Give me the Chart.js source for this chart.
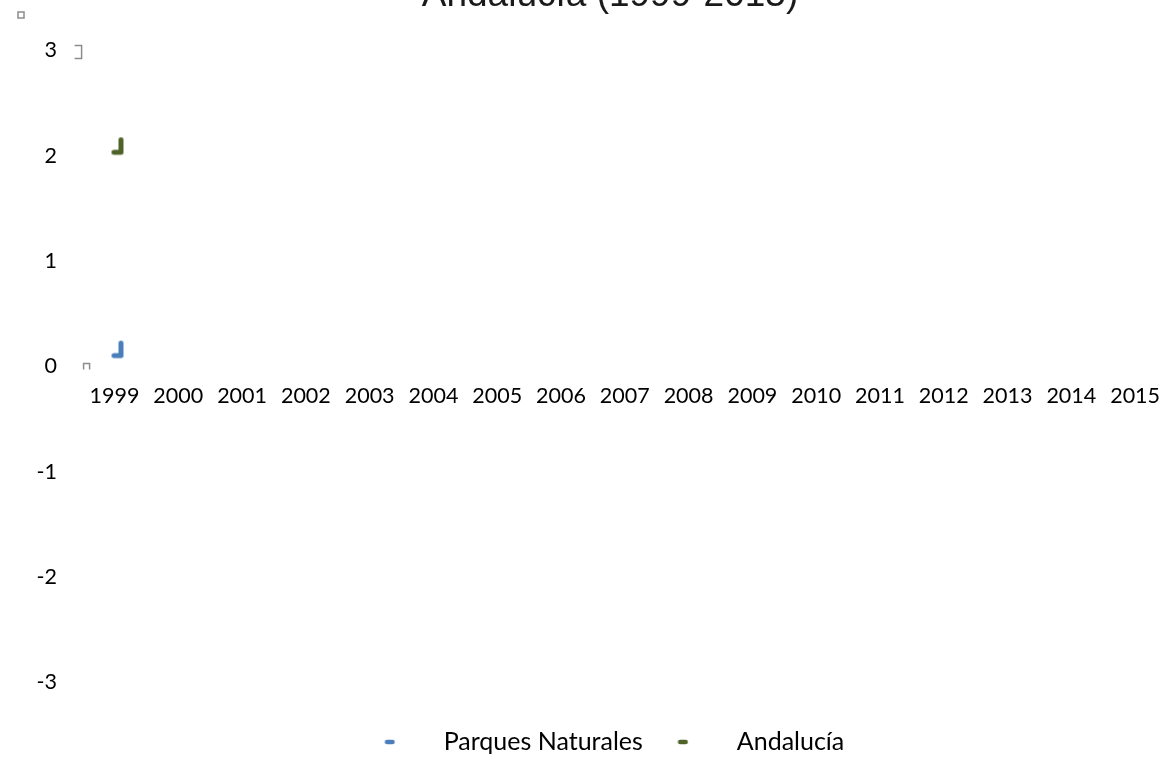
<!DOCTYPE html>
<html>
<head>
<meta charset="utf-8">
<title>Andalucía (1999-2015)</title>
<script src="https://cdn.jsdelivr.net/npm/chart.js@4.4.1/dist/chart.umd.min.js"></script>
<style>
  html, body { margin: 0; padding: 0; background: #fff; }
  #wrap { width: 1169px; height: 758px; }
</style>
</head>
<body>
<div id="wrap"><canvas id="chart"></canvas></div>
<script>
// values: only 1999 has a mark
const years = ['1999', '2000', '2001', '2002', '2003', '2004', '2005', '2006', '2007',
               '2008', '2009', '2010', '2011', '2012', '2013', '2014', '2015'];
const parquesNaturales = [0.16, null, null, null, null, null, null, null, null,
                          null, null, null, null, null, null, null, null];
const andalucia = [2.09, null, null, null, null, null, null, null, null,
                   null, null, null, null, null, null, null, null];
const yMin = -3, yMax = 3, yStep = 1;

const blue = '#4A7EBB';
const green = '#4F6228';
const font = "'Lato', 'Noto Sans', sans-serif";

// layout numbers shared by the options and the x-span fix below
const padRight = -21;
const spacerWidth = 23;

// little "L" shaped marker seen at each data point
function lMark(color) {
    const c = document.createElement('canvas');
    c.width = 24; c.height = 20;
    const g = c.getContext('2d');
    g.strokeStyle = color; g.lineWidth = 5;
    g.lineCap = 'round'; g.lineJoin = 'round';
    g.beginPath(); g.moveTo(18.5, 3.5); g.lineTo(18.5, 16); g.lineTo(11.5, 16); g.stroke();
    return c;
}

// short dash used in the legend (sits left of the box centre)
function legendDash(color) {
    const c = document.createElement('canvas');
    c.width = 40; c.height = 10;
    const g = c.getContext('2d');
    g.strokeStyle = color; g.lineWidth = 4.5; g.lineCap = 'round';
    g.beginPath(); g.moveTo(3.5, 5); g.lineTo(9, 5); g.stroke();
    return c;
}

const legendImgs = [legendDash(blue), legendDash(green)];

// stretch the x scale out to the right-hand spacer
const xSpan = {
    id: 'xSpan',
    afterLayout(chart) {
        const x = chart.scales.x;
        const right = chart.width - padRight - spacerWidth;
        if (Math.abs(x.right - right) > 0.5) {
            x.right = right;
            x.width = x.right - x.left;
            x.configure();
        }
    }
};

// grey stray glyphs near the axis
const strayMarks = {
    id: 'strayMarks',
    afterDraw(chart) {
        const ctx = chart.ctx;
        const y = chart.scales.y;
        const left = chart.chartArea.left;
        ctx.save();
        ctx.strokeStyle = '#8c8c8c';
        ctx.lineWidth = 1.5;
        ctx.strokeRect(18, 12, 6, 6);
        const y3 = y.getPixelForValue(yMax);
        ctx.beginPath();
        ctx.moveTo(left - 8, y3 - 5); ctx.lineTo(left - 1, y3 - 5);
        ctx.lineTo(left - 1, y3 + 8); ctx.lineTo(left - 8, y3 + 8);
        ctx.stroke();
        const y0 = y.getPixelForValue(0);
        ctx.beginPath();
        ctx.moveTo(left + 1, y0 + 3); ctx.lineTo(left + 1, y0 - 3);
        ctx.lineTo(left + 7, y0 - 3); ctx.lineTo(left + 7, y0 + 3);
        ctx.stroke();
        ctx.restore();
    }
};

new Chart(document.getElementById('chart'), {
    type: 'line',
    data: {
        labels: years,
        datasets: [{
            label: 'Parques Naturales',
            data: parquesNaturales,
            borderColor: blue,
            backgroundColor: blue,
            borderWidth: 3,
            pointStyle: lMark(blue),
            pointRadius: 8
        }, {
            label: 'Andalucía',
            data: andalucia,
            borderColor: green,
            backgroundColor: green,
            borderWidth: 3,
            pointStyle: lMark(green),
            pointRadius: 8
        }]
    },
    options: {
        responsive: true,
        maintainAspectRatio: false,
        animation: false,
        // left/right offset keeps title and legend centred where the original has them
        layout: { padding: { left: 30, right: padRight, top: 0, bottom: -6.5 } },
        plugins: {
            title: {
                display: true,
                text: 'Andalucía (1999-2015)',
                color: '#1a1a1a',
                font: { family: "'Liberation Sans', Arial, sans-serif", size: 37, weight: 'normal' },
                padding: { top: -26, bottom: 32 }
            },
            legend: {
                position: 'bottom',
                title: { display: true, text: '', font: { size: 10, lineHeight: 1 }, padding: { top: 11, bottom: 0 } },
                labels: {
                    usePointStyle: true,
                    pointStyleWidth: 55.5,
                    padding: 26,
                    color: '#000',
                    font: { family: font, size: 25 },
                    generateLabels: chart => chart.data.datasets.map((ds, i) => ({
                        text: ds.label,
                        pointStyle: legendImgs[i],
                        fillStyle: ds.borderColor,
                        strokeStyle: ds.borderColor,
                        fontColor: '#000',
                        lineWidth: 0,
                        hidden: false,
                        datasetIndex: i
                    }))
                }
            },
            tooltip: { enabled: false }
        },
        scales: {
            x: {
                type: 'category',
                offset: true,
                position: { y: 0 },
                // invisible tick marks push the labels below the zero line
                grid: { display: false, drawTicks: true, tickLength: 16.5 },
                border: { display: false },
                afterFit: s => { s.paddingLeft = 0; s.paddingRight = 0; },
                ticks: {
                    color: '#000',
                    font: { family: font, size: 21.5 },
                    maxRotation: 0,
                    autoSkip: false,
                    padding: 0
                }
            },
            y: {
                min: yMin,
                max: yMax,
                grid: { display: false, drawTicks: false },
                border: { display: false },
                afterFit: s => { s.width = 52.6; },
                ticks: {
                    stepSize: yStep,
                    color: '#000',
                    font: { family: font, size: 21.5 },
                    padding: 25.6,
                    callback: v => String(v)
                }
            },
            // empty right-hand spacer
            y2: {
                position: 'right',
                min: yMin,
                max: yMax,
                grid: { display: false, drawTicks: false },
                border: { display: false },
                ticks: { display: false },
                afterFit: s => { s.width = spacerWidth; }
            }
        }
    },
    plugins: [xSpan, strayMarks]
});
</script>
</body>
</html>
